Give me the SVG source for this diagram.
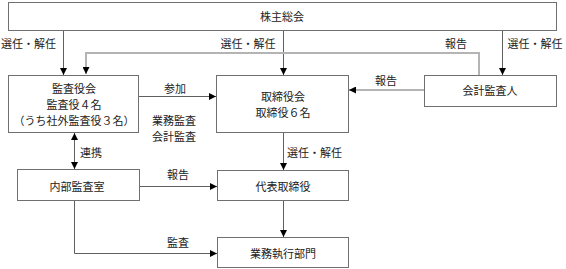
<svg xmlns="http://www.w3.org/2000/svg" width="566" height="269" viewBox="0 0 566 269">
<style>
.box{fill:#fff;stroke:#707070;stroke-width:1}
.t{font-family:"Noto Sans CJK JP","Noto Sans CJK SC",sans-serif;font-size:11px;fill:#222;dominant-baseline:central}
.c{text-anchor:middle}
.ln{fill:none;stroke:#606060;stroke-width:1}
.gl{fill:none;stroke:#b4b4b4;stroke-width:2}
</style>
<defs>
<marker id="ah" markerWidth="7" markerHeight="7" refX="7" refY="3.5" orient="auto-start-reverse" markerUnits="userSpaceOnUse">
<path d="M0,0 L7,3.5 L0,7 z" fill="#000"/>
</marker>
</defs>
<rect width="566" height="269" fill="#fff"/>
<g id="connectors">
<path class="ln" d="M63.5,30 V75" marker-end="url(#ah)"/>
<path class="ln" d="M283.5,30 V75" marker-end="url(#ah)"/>
<path class="ln" d="M502.5,30 V75" marker-end="url(#ah)"/>
<path class="gl" d="M479,75 V53 H86 V74" marker-end="url(#ah)"/>
<path class="gl" d="M424,90 H349" marker-end="url(#ah)"/>
<path class="ln" d="M139,96.5 H216" marker-end="url(#ah)"/>
<path class="ln" d="M74.5,133 V169" marker-start="url(#ah)" marker-end="url(#ah)"/>
<path class="ln" d="M283.5,133 V170" marker-end="url(#ah)"/>
<path class="ln" d="M140,186.5 H217" marker-end="url(#ah)"/>
<path class="ln" d="M283.5,200 V237" marker-end="url(#ah)"/>
<path class="ln" d="M74.5,200 V253.5 H217" marker-end="url(#ah)"/>
<text class="t" x="1" y="43">選任・解任</text>
<text class="t c" x="248" y="43">選任・解任</text>
<text class="t c" x="456" y="43">報告</text>
<text class="t c" x="535" y="43">選任・解任</text>
<text class="t c" x="386" y="80">報告</text>
<text class="t c" x="175" y="88">参加</text>
<text class="t c" x="174" y="120">業務監査</text>
<text class="t c" x="174" y="136">会計監査</text>
<text class="t" x="80" y="152">連携</text>
<text class="t" x="287" y="152">選任・解任</text>
<text class="t c" x="178" y="174">報告</text>
<text class="t c" x="178" y="242">監査</text>
</g>
<g id="shareholders">
<rect class="box" x="8.5" y="2.5" width="548" height="28"/>
<text class="t c" x="282" y="16">株主総会</text>
</g>
<g id="auditors-board">
<rect class="box" x="8.5" y="75.5" width="130" height="57"/>
<text class="t c" x="74" y="88">監査役会</text>
<text class="t c" x="74" y="104">監査役４名</text>
<text class="t c" x="74" y="120">（うち社外監査役３名）</text>
</g>
<g id="board">
<rect class="box" x="216.5" y="75.5" width="132" height="57"/>
<text class="t c" x="283" y="96">取締役会</text>
<text class="t c" x="283" y="112">取締役６名</text>
</g>
<g id="accounting-auditor">
<rect class="box" x="424.5" y="75.5" width="132" height="31"/>
<text class="t c" x="490" y="90">会計監査人</text>
</g>
<g id="internal-audit">
<rect class="box" x="17.5" y="169.5" width="122" height="31"/>
<text class="t c" x="77" y="186">内部監査室</text>
</g>
<g id="representative">
<rect class="box" x="217.5" y="170.5" width="131" height="30"/>
<text class="t c" x="283" y="186">代表取締役</text>
</g>
<g id="operations">
<rect class="box" x="217.5" y="237.5" width="131" height="30"/>
<text class="t c" x="283" y="253">業務執行部門</text>
</g>
</svg>
